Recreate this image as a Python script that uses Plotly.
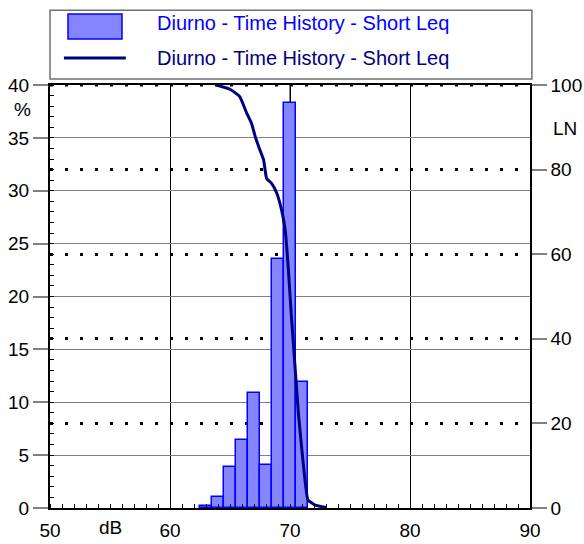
import plotly.graph_objects as go

# histogram of short Leq (1 dB classes)
bin_db = [63, 64, 65, 66, 67, 68, 69, 70, 71]
bin_pct = [0.2, 1.0, 3.9, 6.4, 10.9, 4.1, 23.5, 38.3, 11.9]

# cumulative LN curve
ln_db = [63.85, 65.0, 65.8, 66.4, 66.8, 67.1, 67.5, 67.8, 68.05, 68.45, 68.9,
         69.3, 69.6, 69.85, 70.1, 70.4, 70.7, 71.1, 71.5, 72.1, 73.0]
ln_val = [100, 99, 97.3, 93.3, 90.9, 87.8, 84.6, 82.3, 77.9, 76.8, 74.4,
          70.4, 65.7, 57.0, 46.0, 34.2, 22.4, 10.6, 1.9, 0.7, 0.1]

series_name = "Diurno - Time History - Short Leq"
x_ticks = [50, 60, 70, 80, 90]
y_ticks = [0, 5, 10, 15, 20, 25, 30, 35, 40]
ln_ticks = [0, 20, 40, 60, 80, 100]

FONT = "Liberation Sans, Arial, sans-serif"
BAR_FILL = "#8585ff"
BAR_LINE = "#0000ff"
NAVY = "#000080"

fig = go.Figure()

fig.add_trace(go.Bar(
    x=bin_db, y=bin_pct, width=1.0,
    marker=dict(color=BAR_FILL, line=dict(color=BAR_LINE, width=1.5)),
    name=series_name, showlegend=False,
))
fig.add_trace(go.Scatter(
    x=ln_db, y=ln_val, yaxis="y2", mode="lines",
    line=dict(color=NAVY, width=3, shape="spline", smoothing=0.4),
    name=series_name, showlegend=False,
))

# Leq marker at 70 dB
fig.add_shape(type="line", xref="x", yref="y", x0=70, x1=70, y0=-1, y1=40,
              line=dict(color="#808080", width=2), layer="below")
# left axis stub below the x axis
fig.add_shape(type="line", xref="x", yref="y", x0=50, x1=50, y0=-1, y1=0,
              line=dict(color="#808080", width=2), layer="below")
# dotted LN=100 line on the top border
fig.add_shape(type="line", xref="x", yref="y2", x0=50, x1=90, y0=100, y1=100,
              line=dict(color="black", width=3, dash="3px,12px"), layer="below")

# hand-made legend box
fig.add_shape(type="rect", xref="paper", yref="paper", x0=0.0, x1=1.004, y0=1.014, y1=1.177,
              line=dict(color="#707070", width=1.5), fillcolor="white")
fig.add_shape(type="rect", xref="paper", yref="paper", x0=0.0375, x1=0.15, y0=1.109, y1=1.168,
              line=dict(color=BAR_LINE, width=1.5), fillcolor=BAR_FILL)
fig.add_shape(type="line", xref="paper", yref="paper", x0=0.029, x1=0.158, y0=1.064, y1=1.064,
              line=dict(color=NAVY, width=3))
fig.add_annotation(x=0.219, y=1.1466, xref="paper", yref="paper", text=series_name,
                   showarrow=False, xanchor="left", yanchor="middle",
                   font=dict(family=FONT, size=20, color=BAR_LINE))
fig.add_annotation(x=0.219, y=1.0645, xref="paper", yref="paper", text=series_name,
                   showarrow=False, xanchor="left", yanchor="middle",
                   font=dict(family=FONT, size=20, color=NAVY))

# axis unit labels
for txt, x, y in [("%", -0.058, 0.941), ("LN", 1.073, 0.898), ("dB", 0.125, -0.045)]:
    fig.add_annotation(x=x, y=y, xref="paper", yref="paper", text=txt, showarrow=False,
                       xanchor="center", yanchor="middle",
                       font=dict(family=FONT, size=19, color="black"))

fig.update_layout(
    width=584, height=544,
    margin=dict(l=50, r=54, t=85, b=36),
    paper_bgcolor="white", plot_bgcolor="white",
    font=dict(family=FONT, size=19, color="black"),
    bargap=0,
    showlegend=False,
    xaxis=dict(
        range=[50, 90], tickvals=x_ticks, ticks="", showgrid=True,
        gridcolor="black", gridwidth=1, zeroline=False,
        showline=True, linecolor="black", linewidth=2, mirror=True,
        minor=dict(ticks="inside", ticklen=4, dtick=1, tickcolor="black", tickwidth=1),
        ticklabelstandoff=4, automargin=False,
    ),
    yaxis=dict(
        range=[0, 40], tickvals=y_ticks, ticks="outside", ticklen=15,
        tickcolor="#808080", tickwidth=1.5, showgrid=True, gridcolor="#808080",
        gridwidth=1, zeroline=False, showline=True, linecolor="black", linewidth=2,
        minor=dict(ticks="inside", ticklen=4, dtick=1, tickcolor="black", tickwidth=1),
        ticklabelstandoff=0, automargin=False,
    ),
    yaxis2=dict(
        range=[0, 100], tickvals=ln_ticks, overlaying="y", side="right",
        ticks="outside", ticklen=15, tickcolor="#808080", tickwidth=1.5,
        showgrid=True, gridcolor="black", gridwidth=3, griddash="3px,12px",
        zeroline=False, showline=True, linecolor="black", linewidth=1.5,
        ticklabelstandoff=0, automargin=False,
    ),
)

fig.write_html("out.html", config={"displayModeBar": False},
               post_script="document.body.style.margin='0';")
